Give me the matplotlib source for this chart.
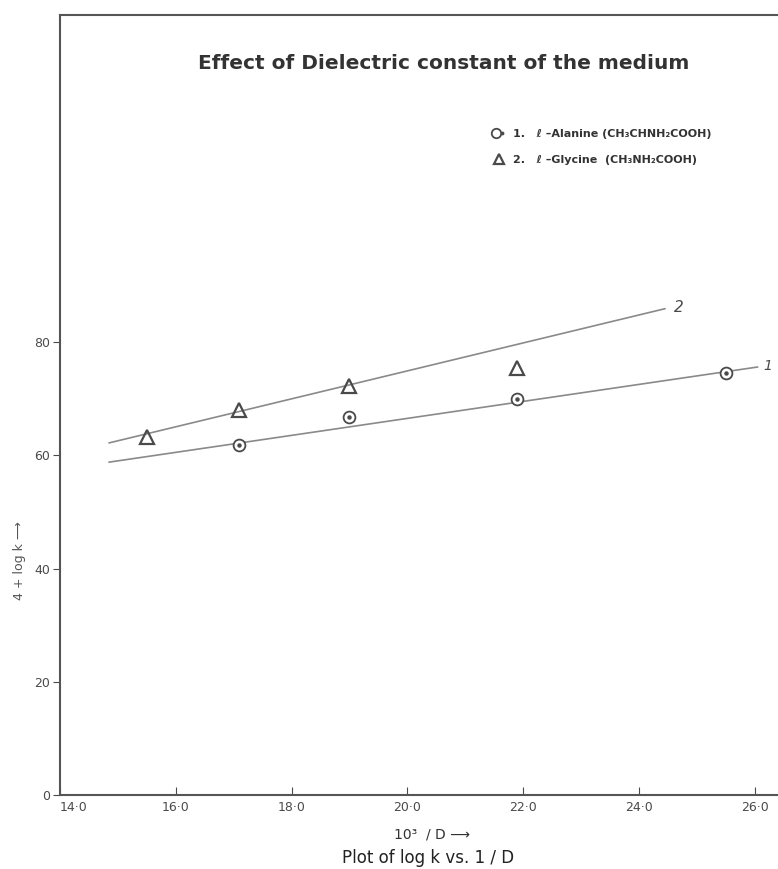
"""
Effect of dielectric constant of the medium on log k
(recreated from a hand-drawn graph)
"""

import matplotlib.pyplot as plt
from matplotlib.legend_handler import HandlerTuple

# Observed points (x = 10^3 / D, y = 4 + log k)
alanine_x = [17.1, 19.0, 21.9, 25.5]
alanine_y = [61.8, 66.8, 70.0, 74.5]
glycine_x = [15.5, 17.1, 19.0, 21.9]
glycine_y = [63.2, 68.0, 72.2, 75.5]

# Hand-drawn best-fit lines (end points)
line1_x = [14.85, 26.05]
line1_y = [58.8, 75.6]
line2_x = [14.85, 24.45]
line2_y = [62.2, 85.9]

x_ticks = [14, 16, 18, 20, 22, 24, 26]
x_tick_labels = ['14·0', '16·0', '18·0', '20·0', '22·0', '24·0', '26·0']
y_ticks = [0, 20, 40, 60, 80]
y_tick_labels = ['0', '20', '40', '60', '80']

ink = '#4a4a4a'
line_col = '#8a8a8a'

fig = plt.figure(figsize=(7.78, 8.69), dpi=100)
ax = fig.add_axes([0.0771, 0.0852, 0.93, 0.8976])
ax.set_xlim(14, 26.5)
ax.set_ylim(0, 137.8)

# fitted lines
ax.plot(line1_x, line1_y, color=line_col, lw=1.2)
ax.plot(line2_x, line2_y, color=line_col, lw=1.2)

# points
c1, = ax.plot(alanine_x, alanine_y, 'o', ms=8.5, mfc='white', mec=ink, mew=1.3,
              linestyle='none', label='1.   ℓ –Alanine (CH₃CHNH₂COOH)')
c1dot, = ax.plot(alanine_x, alanine_y, 'o', ms=2.2, color=ink, linestyle='none')
t2, = ax.plot(glycine_x, glycine_y, '^', ms=9.5, mfc='none', mec=ink, mew=1.6,
              linestyle='none', label='2.   ℓ –Glycine  (CH₃NH₂COOH)')

# line numbers written at the ends
ax.text(line2_x[1] + 0.15, line2_y[1] + 0.3, '2', fontsize=11, color=ink,
        fontstyle='italic', va='center')
ax.text(line1_x[1] + 0.1, line1_y[1] + 0.2, '1', fontsize=10, color=ink,
        fontstyle='italic', va='center')

leg = ax.legend([(c1, c1dot), t2], [c1.get_label(), t2.get_label()],
                handler_map={tuple: HandlerTuple(ndivide=None, pad=0)},
                loc='upper left', bbox_to_anchor=(0.585, 0.867),
                frameon=False, fontsize=8, handlelength=1.0,
                handletextpad=0.8, labelspacing=1.45, markerscale=0.8)
for txt in leg.get_texts():
    txt.set_color('#333333')
    txt.set_fontweight('bold')

# axes styling
ax.spines['right'].set_visible(False)
for side in ['left', 'bottom', 'top']:
    ax.spines[side].set_color('#555555')
    ax.spines[side].set_linewidth(1.5)

ax.set_xticks(x_ticks)
ax.set_xticklabels(x_tick_labels)
ax.set_yticks(y_ticks)
ax.set_yticklabels(y_tick_labels)
ax.tick_params(axis='x', direction='in', length=6, colors=ink, labelsize=9, pad=4)
ax.tick_params(axis='y', direction='out', length=5, colors=ink, labelsize=9, pad=2)
# the first x label sits just right of the origin, clear of the y "0"
ax.get_xticklabels()[0].set_horizontalalignment('left')

ax.set_title('Effect of Dielectric constant of the medium', fontsize=14.5,
             fontweight='bold', color='#333333', y=0.92, x=0.53)

ax.set_ylabel('4 + log k ⟶', fontsize=9, color='#555555')
ax.yaxis.set_label_coords(-0.047, 0.30)

fig.text(0.555, 0.040, '10³  / D ⟶', ha='center', va='center', fontsize=10,
         color='#333333')
fig.text(0.55, 0.013, 'Plot of log k vs. 1 / D', ha='center', va='center',
         fontsize=12, color='#222222')

plt.savefig('out.png', dpi=100)
